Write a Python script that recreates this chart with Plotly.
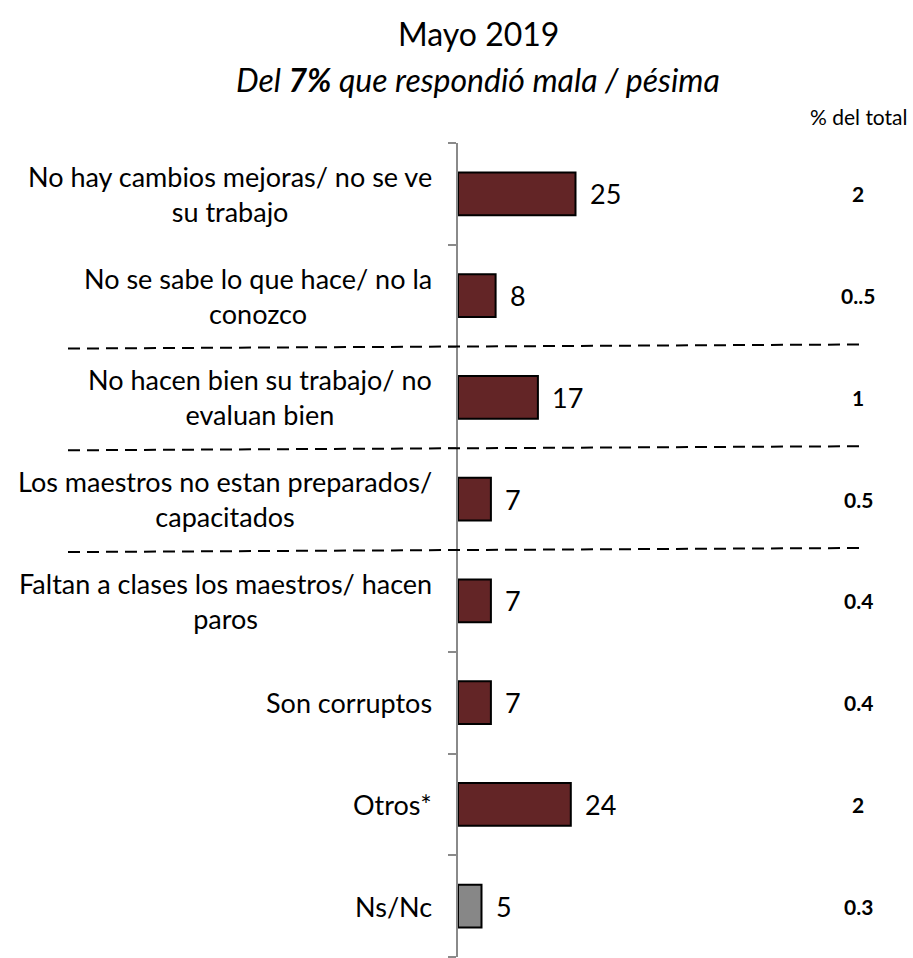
import plotly.graph_objects as go

categories = [
    "No hay cambios mejoras/ no se ve<br>su trabajo",
    "No se sabe lo que hace/ no la<br>conozco",
    "No hacen bien su trabajo/ no<br>evaluan bien",
    "Los maestros no estan preparados/<br>capacitados",
    "Faltan a clases los maestros/ hacen<br>paros",
    "Son corruptos",
    "Otros*",
    "Ns/Nc",
]
values = [25, 8, 17, 7, 7, 7, 24, 5]
pct_total = ["2", "0..5", "1", "0.5", "0.4", "0.4", "2", "0.3"]
bar_colors = ["#632526"] * 7 + ["#878787"]
separators_after = [1, 2, 3]  # dashed line after these category indices

FONT = "Lato"
W, H = 913, 958
ML, MR, MT, MB = 458, 53, 143, 1
px_per_unit = 4.7
plot_w = W - ML - MR
plot_h = H - MT - MB

fig = go.Figure()
fig.add_trace(go.Bar(
    y=list(range(len(categories))),
    x=values,
    orientation="h",
    marker=dict(color=bar_colors, line=dict(color="black", width=2)),
    width=0.42,
    hoverinfo="skip",
))

annotations = []
for i, (c, v, p) in enumerate(zip(categories, values, pct_total)):
    annotations.append(dict(
        x=0, xref="paper", y=i, yref="y", text=c, showarrow=False,
        xanchor="right", yanchor="middle", align="center", xshift=-24,
        font=dict(family=FONT, size=27, color="black"),
    ))
    annotations.append(dict(
        x=v, xref="x", y=i, yref="y", text=str(v), showarrow=False,
        xanchor="left", yanchor="middle", xshift=12,
        font=dict(family=FONT, size=27, color="black"),
    ))
    annotations.append(dict(
        x=(858 - ML) / plot_w, xref="paper", y=i, yref="y", text="<b>%s</b>" % p,
        showarrow=False, xanchor="center", yanchor="middle",
        font=dict(family=FONT, size=21, color="black"),
    ))

annotations += [
    dict(x=(859 - ML) / plot_w, xref="paper", y=1 + (MT - 117) / plot_h,
         yref="paper", text="% del total", showarrow=False, xanchor="center", yanchor="middle",
         font=dict(family=FONT, size=21, color="black")),
    dict(x=(478 - ML) / plot_w, xref="paper", y=1 + (MT - 34) / plot_h, yref="paper",
         text="Mayo 2019", showarrow=False, xanchor="center", yanchor="middle",
         font=dict(family=FONT, size=32, color="black")),
    dict(x=(478 - ML) / plot_w, xref="paper", y=1 + (MT - 79) / plot_h, yref="paper",
         text="<i>Del <b>7%</b> que respondió mala / pésima</i>", showarrow=False,
         xanchor="center", yanchor="middle",
         font=dict(family=FONT, size=32, color="black")),
]

shapes = []
for s in separators_after:
    shapes.append(dict(
        type="line", xref="paper", yref="y",
        x0=(68 - ML) / plot_w, x1=1.0, y0=s + 0.5 + 0.02, y1=s + 0.5 - 0.02,
        line=dict(color="black", width=2, dash="12px,7px"),
    ))

fig.update_layout(
    width=W, height=H,
    margin=dict(l=ML, r=MR, t=MT, b=MB),
    paper_bgcolor="white", plot_bgcolor="white",
    showlegend=False,
    annotations=annotations,
    shapes=shapes,
    xaxis=dict(range=[0, plot_w / px_per_unit], visible=False, fixedrange=True),
    yaxis=dict(
        range=[len(categories) - 0.5, -0.5],
        tickvals=[i - 0.5 for i in range(len(categories) + 1)],
        showticklabels=False, ticks="outside", ticklen=8, tickwidth=1.5,
        tickcolor="#8a8a8a", showline=True, linecolor="#8a8a8a", linewidth=1.5,
        showgrid=False, zeroline=False, fixedrange=True,
    ),
)

fig.write_html(
    "out.html",
    config={"displayModeBar": False},
    post_script="document.body.style.margin='0';document.body.style.overflow='hidden';",
)
